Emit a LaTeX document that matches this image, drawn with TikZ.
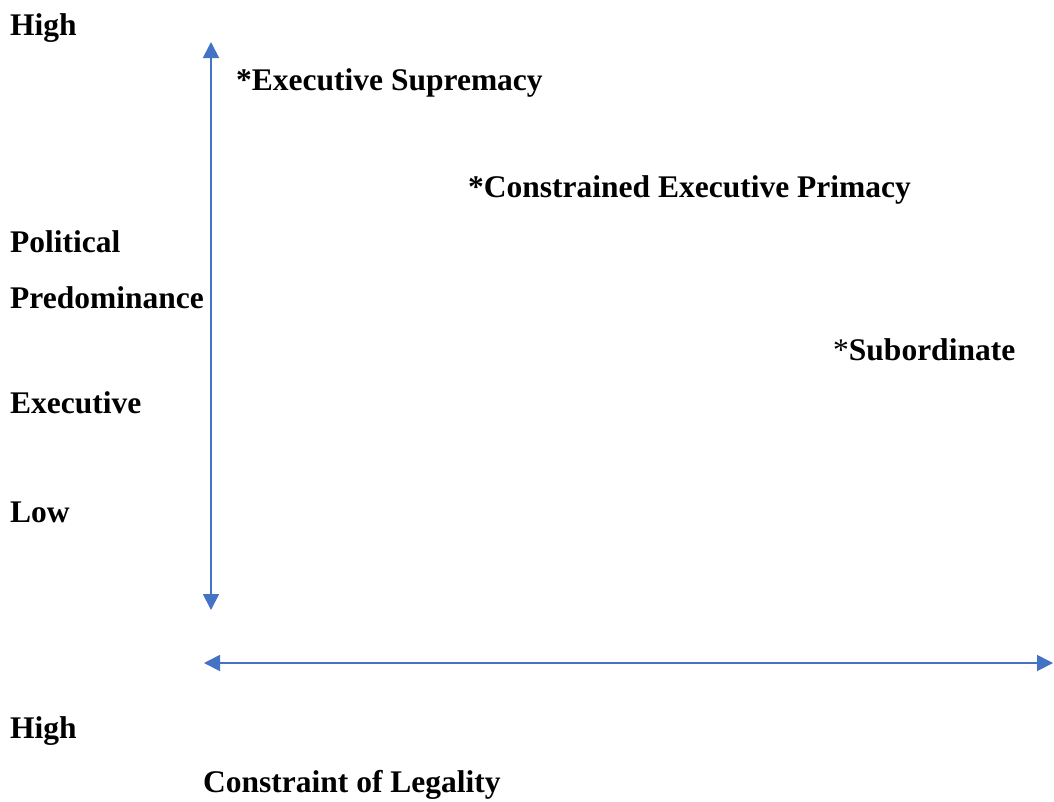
\documentclass[tikz,border=0pt]{standalone}
\usepackage{fontspec}
\setmainfont{Liberation Serif}
\usepackage{tikz}
\usetikzlibrary{arrows.meta}
\definecolor{axisblue}{RGB}{68,114,196}

\begin{document}
\begin{tikzpicture} [x=1pt,y=-1pt,
    lbl/.style={anchor=base west,inner sep=0pt,font=\fontsize{31.5}{36}\selectfont\bfseries},
    axis/.style={axisblue,line width=1.8pt,{Triangle[length=16pt,width=16pt]}-{Triangle[length=16pt,width=16pt]}}]
    \useasboundingbox (0,0) rectangle (1054,801);
                      % vertical axis
    \coordinate (vtop) at (211,42);
    \coordinate (vbot) at (211,610);
    \draw [axis] (vtop) -- (vbot);
                      % horizontal axis
    \coordinate (hleft) at (204,663);
    \coordinate (hright) at (1053,663);
    \draw [axis] (hleft) -- (hright);

					 % axis labels, left side
    \node[lbl] (high1) at (10,35) {High};
    \node[lbl] (pol) at (10,252) {Political};
    \node[lbl] (pred) at (10,308) {Predominance};
    \node[lbl] (exec) at (10,413) {Executive};
    \node[lbl] (low) at (10,522) {Low};
					 % axis labels, bottom
    \node[lbl] (high2) at (10,738) {High};
    \node[lbl] (legal) at (203,792) {Constraint of Legality};

					 % the three types
    \node[lbl] (sup) at (236,90) {*Executive Supremacy};
    \node[lbl] (prim) at (468,197) {*Constrained Executive Primacy};
    \node[lbl] (sub) at (833,360) {\mdseries*\bfseries Subordinate};
\end{tikzpicture}
\end{document}
